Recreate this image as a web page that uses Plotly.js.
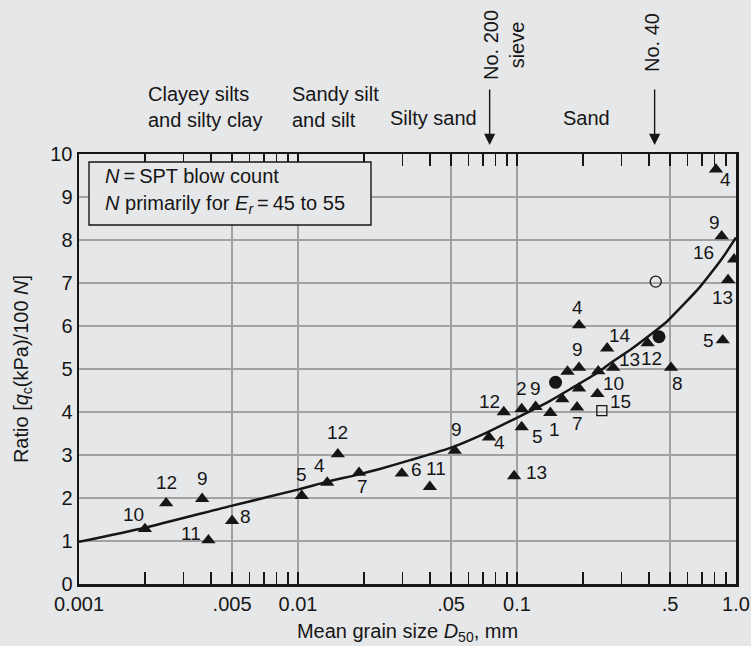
<!DOCTYPE html>
<html>
<head>
<meta charset="utf-8">
<script src="https://cdn.plot.ly/plotly-3.0.1.min.js"></script>
<style>html,body{margin:0;padding:0;background:#e6e7e9;}#chart{width:751px;height:646px;}</style>
</head>
<body>
<div id="chart"></div>
<script>
// ---- data ----
const triX = [0.002, 0.0025, 0.00365, 0.0039, 0.005, 0.0104, 0.0136, 0.0152, 0.019, 0.0298, 0.040, 0.052, 0.0745, 0.087, 0.097, 0.105, 0.105, 0.1216, 0.142, 0.188, 0.161, 0.192, 0.233, 0.17, 0.192, 0.192, 0.235, 0.275, 0.258, 0.395, 0.505, 0.87, 0.81, 0.86, 0.98, 0.92];
const triY = [1.28, 1.88, 1.98, 1.02, 1.47, 2.05, 2.36, 3.02, 2.59, 2.57, 2.26, 3.10, 3.41, 4.0, 2.51, 4.07, 3.65, 4.12, 3.98, 4.11, 4.30, 4.55, 4.42, 4.94, 5.03, 6.02, 4.95, 5.03, 5.48, 5.60, 5.03, 5.67, 9.64, 8.09, 7.55, 7.07];
const triLabels = ["10","12","9","11","8","5","4","12","7","6","11","9","4","12","13","2","5","9","1","7","","","15","","9","4","10","13","14","12","8","5","4","9","16","13"];
const filledCircleX = [0.150, 0.445];
const filledCircleY = [4.69, 5.75];
const openCircleX = [0.43];
const openCircleY = [7.03];
const openSquareX = [0.244];
const openSquareY = [4.03];
const curveX = [0.001, 0.002, 0.0048, 0.0101, 0.0134, 0.019, 0.0234, 0.0325, 0.0512, 0.0727, 0.103, 0.1416, 0.1746, 0.231, 0.266, 0.328, 0.405, 0.483, 0.574, 0.685, 0.788, 0.875, 1.0];
const curveY = [0.98, 1.31, 1.80, 2.20, 2.37, 2.55, 2.67, 2.88, 3.19, 3.52, 3.90, 4.26, 4.53, 4.90, 5.13, 5.44, 5.79, 6.10, 6.49, 6.91, 7.30, 7.61, 8.06];
const sieveSizes = [0.075, 0.425];
const sieveLabels = ["No. 200<br>sieve", "No. 40"];
const xTickVals = [0.001, 0.005, 0.01, 0.05, 0.1, 0.5, 1.0];
const xTickText = ["0.001", ".005", "0.01", ".05", "0.1", ".5", "1.0"];
const xMinorVals = [0.002,0.003,0.004,0.006,0.007,0.008,0.009,0.02,0.03,0.04,0.06,0.07,0.08,0.09,0.2,0.3,0.4,0.6,0.7,0.8,0.9];
const yTickVals = [0,1,2,3,4,5,6,7,8,9,10];
const soilClasses = ["Clayey silts<br>and silty clay", "Sandy silt<br>and silt", "Silty sand", "Sand"];

// ---- styling: label offsets in pixels (dx right, dy down) ----
const labelOffsets = [[-11,-14],[0,-21],[0,-20],[-17,-7],[13,-4],[0,-21],[-8,-17],[0,-22],[3,14],[15,-4],[6,-18],[2,-21],[10,5],[-14,-11],[22,-4],[0,-20],[16,9],[0,-18],[4,17],[0,16],[0,0],[0,0],[23,8],[0,0],[-2,-18],[-2,-18],[15,12],[16,-8],[13,-13],[4,15],[6,16],[-14,0],[10,10],[-7,-14],[-31,-7],[-6,18]];
const BG = '#e6e7e9', INK = '#161616', GRID = '#a2a2a2';
const FONT = '"Liberation Sans", Arial, Helvetica, sans-serif';
const L = 79, R = 736, T = 154, B = 584;
const px = x => (x - L) / (R - L);
const py = y => (B - y) / (B - T);

const traces = [
  {x: curveX, y: curveY, mode: 'lines', line: {color: INK, width: 2.5, shape: 'spline', smoothing: 0.6}, hoverinfo: 'skip'},
  {x: triX, y: triY, mode: 'markers', marker: {symbol: 'triangle-up', size: 12.5, color: INK}},
  {x: filledCircleX, y: filledCircleY, mode: 'markers', marker: {symbol: 'circle', size: 13, color: INK}},
  {x: openCircleX, y: openCircleY, mode: 'markers', marker: {symbol: 'circle-open', size: 11, color: INK, line: {width: 1.3, color: INK}}},
  {x: openSquareX, y: openSquareY, mode: 'markers', marker: {symbol: 'square-open', size: 10, color: INK, line: {width: 1.3, color: INK}}}
];

const ann = [];
triLabels.forEach((t, i) => {
  if (!t) return;
  ann.push({xref: 'x', yref: 'y', x: Math.log10(triX[i]), y: triY[i], text: t, showarrow: false,
    xanchor: 'center', yanchor: 'middle', xshift: labelOffsets[i][0], yshift: -labelOffsets[i][1],
    font: {family: FONT, size: 19, color: INK}});
});
const classPos = [[146, 107], [290, 107], [388, 118], [561, 118]];
soilClasses.forEach((t, i) => ann.push({xref: 'paper', yref: 'paper', x: px(classPos[i][0]), y: py(classPos[i][1]),
  xanchor: 'left', yanchor: 'middle', align: 'left', text: t, showarrow: false, font: {family: FONT, size: 20, color: INK}}));
const sieveTextPos = [[504, 45], [652, 43]];
sieveSizes.forEach((s, i) => {
  ann.push({xref: 'x', yref: 'paper', x: Math.log10(s), y: py(145), ax: 0, ay: -57, text: '', showarrow: true,
    arrowhead: 2, arrowsize: 1.6, arrowwidth: 1.4, arrowcolor: INK});
  ann.push({xref: 'paper', yref: 'paper', x: px(sieveTextPos[i][0]), y: py(sieveTextPos[i][1]), xanchor: 'center', yanchor: 'middle',
    textangle: -90, align: 'center', text: sieveLabels[i], showarrow: false, font: {family: FONT, size: 20, color: INK}});
});
ann.push({xref: 'paper', yref: 'paper', x: px(103), y: py(176), xanchor: 'left', yanchor: 'middle', showarrow: false,
  text: '<i>N</i>\u2009=\u2009SPT blow count', font: {family: FONT, size: 20, color: INK}});
ann.push({xref: 'paper', yref: 'paper', x: px(103), y: py(204), xanchor: 'left', yanchor: 'middle', showarrow: false,
  text: '<i>N</i> primarily for <i>E<sub>r</sub></i>\u2009=\u200945 to 55', font: {family: FONT, size: 20, color: INK}});

const layout = {
  width: 751, height: 646,
  margin: {l: L, r: 751 - R, t: T, b: 646 - B, pad: 0},
  paper_bgcolor: BG, plot_bgcolor: BG,
  showlegend: false,
  font: {family: FONT, size: 20, color: INK},
  xaxis: {
    type: 'log', range: [-3, 0],
    tickmode: 'array', tickvals: xTickVals, ticktext: xTickText,
    ticks: 'inside', ticklen: 12, tickwidth: 1.4, tickcolor: INK,
    minor: {tickmode: 'array', tickvals: xMinorVals, ticks: 'inside', ticklen: 12, tickwidth: 1.4, tickcolor: INK, showgrid: false},
    showgrid: true, gridcolor: GRID, gridwidth: 1.5,
    showline: true, linecolor: INK, linewidth: 2.5, mirror: 'ticks',
    zeroline: false, tickfont: {family: FONT, size: 20, color: INK},
    title: {text: 'Mean grain size <i>D</i><sub>50</sub>, mm', font: {family: FONT, size: 20, color: INK}, standoff: 11}
  },
  yaxis: {
    range: [0, 10], tickmode: 'array', tickvals: yTickVals,
    ticks: '', showgrid: true, gridcolor: GRID, gridwidth: 1.5,
    showline: true, linecolor: INK, linewidth: 2.5, mirror: true, zeroline: false,
    tickfont: {family: FONT, size: 20, color: INK},
    title: {text: 'Ratio [<i>q</i><sub>c</sub>(kPa)/100 <i>N</i>]', font: {family: FONT, size: 20, color: INK}, standoff: 17}
  },
  shapes: [{type: 'rect', xref: 'paper', yref: 'paper', x0: px(89), x1: px(371), y0: py(225), y1: py(162),
    line: {color: INK, width: 1.4}, fillcolor: BG, layer: 'above'}],
  annotations: ann
};

Plotly.newPlot('chart', traces, layout, {displayModeBar: false, staticPlot: true});
</script>
</body>
</html>
